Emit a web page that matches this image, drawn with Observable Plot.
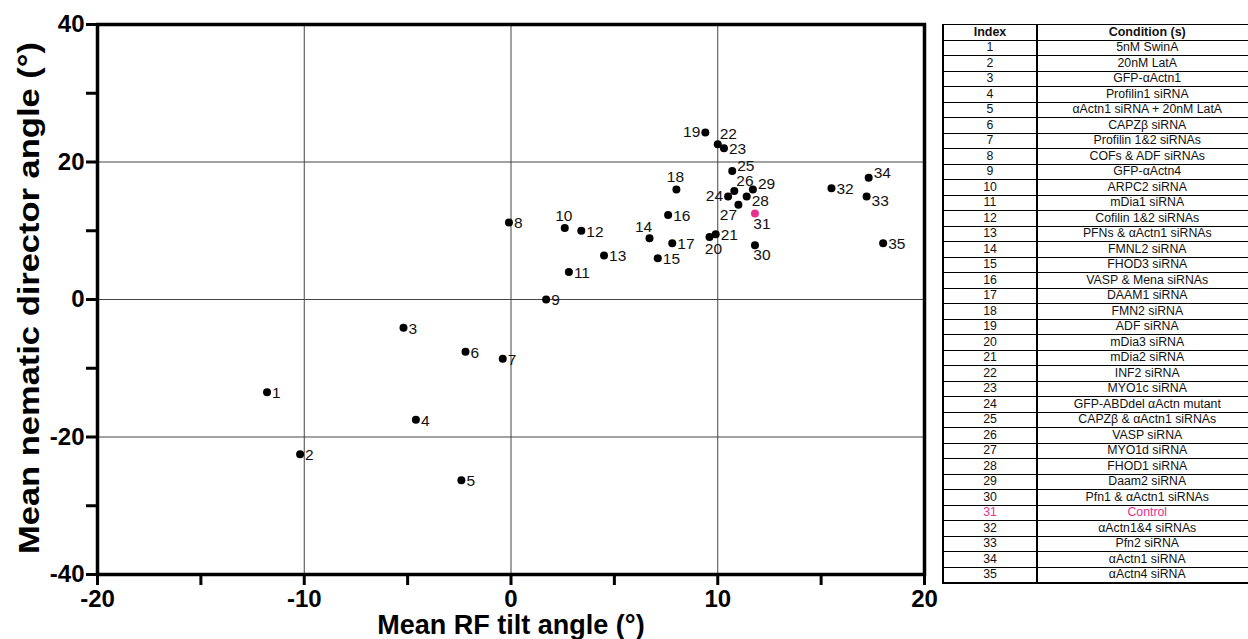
<!DOCTYPE html>
<html>
<head>
<meta charset="utf-8">
<script src="https://cdn.jsdelivr.net/npm/d3@7"></script>
<script src="https://cdn.jsdelivr.net/npm/@observablehq/plot@0.6"></script>
<style>
  html, body { margin: 0; padding: 0; background: white; }
  #wrap { position: relative; width: 1248px; height: 639px; overflow: hidden; font-family: "Liberation Sans", Arial, Helvetica, sans-serif; }
  #chart { position: absolute; left: 0; top: 0; }
  #tbl { position: absolute; left: 942px; top: 24px; width: 314px; height: 560px; border-collapse: collapse; table-layout: fixed; }
  #tbl td, #tbl th { border: 1px solid #000; padding: 0; text-align: center; font-size: 12.3px; line-height: 13px; height: 14.5px; color: #111; white-space: nowrap; overflow: hidden; }
  #tbl th { font-weight: bold; font-size: 12.5px; }
  #tbl tr > :first-child { border-left: 2px solid #000; border-right: 2px solid #000; }
  #tbl tr:first-child > * { border-top: 2px solid #000; }
  #tbl tr:last-child > * { border-bottom: 2px solid #000; }
</style>
</head>
<body>
<div id="wrap">
  <div id="chart"></div>
  <table id="tbl"></table>
</div>
<script>
// ---- data ----
const indexes = [1,2,3,4,5,6,7,8,9,10,11,12,13,14,15,16,17,18,19,20,21,22,23,24,25,26,27,28,29,30,31,32,33,34,35];
const tiltAngle = [-11.8,-10.2,-5.2,-4.6,-2.4,-2.2,-0.4,-0.1,1.7,2.6,2.8,3.4,4.5,6.7,7.1,7.6,7.8,8.0,9.4,9.6,9.9,10.0,10.3,10.5,10.7,10.8,11.0,11.4,11.7,11.8,11.8,15.5,17.2,17.3,18.0];
const directorAngle = [-13.5,-22.5,-4.1,-17.5,-26.3,-7.6,-8.6,11.2,0.0,10.4,4.0,10.0,6.4,8.9,6.0,12.3,8.2,16.0,24.3,9.1,9.5,22.6,22.0,15.0,18.7,15.8,13.8,15.0,16.0,7.9,12.5,16.2,15.0,17.7,8.2];
const labelPlacement = ["r","r","r","r","r","r","r","r","r","t","r","r","r","tl","r","r","r","t","l","b","r","tr","r","l","ru","tr","bl","rd","ru","br","br","r","rd","ru","r"];
const conditions = [
  "5nM SwinA","20nM LatA","GFP-αActn1","Profilin1 siRNA","αActn1 siRNA + 20nM LatA",
  "CAPZβ siRNA","Profilin 1&2 siRNAs","COFs & ADF siRNAs","GFP-αActn4","ARPC2 siRNA",
  "mDia1 siRNA","Cofilin 1&2 siRNAs","PFNs & αActn1 siRNAs","FMNL2 siRNA","FHOD3 siRNA",
  "VASP & Mena siRNAs","DAAM1 siRNA","FMN2 siRNA","ADF siRNA","mDia3 siRNA",
  "mDia2 siRNA","INF2 siRNA","MYO1c siRNA","GFP-ABDdel αActn mutant","CAPZβ & αActn1 siRNAs",
  "VASP siRNA","MYO1d siRNA","FHOD1 siRNA","Daam2 siRNA","Pfn1 & αActn1 siRNAs",
  "Control","αActn1&4 siRNAs","Pfn2 siRNA","αActn1 siRNA","αActn4 siRNA"
];
const highlightIndex = 31;
const xTicks = [-20,-15,-10,-5,0,5,10,15,20];
const yTicks = [-40,-30,-20,-10,0,10,20,30,40];
const gridXValues = [-10,0,10];
const gridYValues = [-20,0,20];
const xTitle = "Mean RF tilt angle (°)";
const yTitle = "Mean nematic director angle (°)";
const tableHeader = ["Index","Condition (s)"];

// ---- build table for Plot ----
const data = indexes.map((idx, i) => ({
  idx, x: tiltAngle[i], y: directorAngle[i], pos: labelPlacement[i], cond: conditions[i]
}));

const PINK = "#e8308c";
const FONT = "'Liberation Sans', Arial, Helvetica, sans-serif";
const placements = {
  r:  {dx: 5,  dy: 1,   anchor: "start"},
  ru: {dx: 5,  dy: -5,  anchor: "start"},
  rd: {dx: 5,  dy: 5,   anchor: "start"},
  t:  {dx: -1, dy: -12, anchor: "middle"},
  tl: {dx: -6, dy: -11, anchor: "middle"},
  tr: {dx: 2,  dy: -10, anchor: "start"},
  l:  {dx: -5, dy: 0,   anchor: "end"},
  b:  {dx: 4,  dy: 12,  anchor: "middle"},
  br: {dx: 7,  dy: 10,  anchor: "middle"},
  bl: {dx: -10,dy: 10,  anchor: "middle"}
};

const labelMarks = Object.entries(placements).map(([key, p]) =>
  Plot.text(data.filter(d => d.pos === key), {
    x: "x", y: "y", text: d => String(d.idx),
    dx: p.dx, dy: p.dy, textAnchor: p.anchor,
    fontSize: 15.5, fill: "#111", fontFamily: FONT
  })
);

const chart = Plot.plot({
  width: 935,
  height: 639,
  marginLeft: 97,
  marginRight: 11,
  marginTop: 24,
  marginBottom: 65,
  x: {domain: [-20, 20]},
  y: {domain: [-40, 40]},
  style: {fontFamily: FONT, background: "white", color: "black", overflow: "visible"},
  marks: [
    Plot.gridX(gridXValues, {stroke: "#444", strokeOpacity: 1, strokeWidth: 1}),
    Plot.gridY(gridYValues, {stroke: "#444", strokeOpacity: 1, strokeWidth: 1}),
    Plot.axisX(xTicks, {
      tickSize: 11, strokeWidth: 3, tickPadding: 4,
      tickFormat: d => d % 10 === 0 ? String(d) : "",
      fontSize: 24, fontWeight: "bold", label: null, fill: "black"
    }),
    Plot.axisY(yTicks, {
      tickSize: 11, strokeWidth: 3, tickPadding: 2,
      tickFormat: d => d % 20 === 0 ? String(d) : "",
      fontSize: 24, fontWeight: "bold", label: null, fill: "black"
    }),
    Plot.frame({stroke: "black", strokeWidth: 3.5}),
    Plot.dot(data, {x: "x", y: "y", r: 4, fill: d => d.idx === highlightIndex ? PINK : "black", stroke: "none"}),
    ...labelMarks,
    Plot.text([xTitle], {frameAnchor: "bottom", lineAnchor: "middle", dy: 51, fontSize: 27, fontWeight: "bold", fill: "black"})
  ]
});
document.getElementById("chart").appendChild(chart);

// y-axis title (rotated)
d3.select(chart).append("text")
  .attr("transform", "translate(31,298) rotate(-90)")
  .attr("text-anchor", "middle")
  .attr("dominant-baseline", "middle")
  .attr("font-family", FONT)
  .attr("font-weight", "bold")
  .attr("font-size", 30)
  .attr("textLength", 512)
  .attr("lengthAdjust", "spacingAndGlyphs")
  .attr("fill", "black")
  .text(yTitle);

// ---- condition table ----
const tbl = d3.select("#tbl");
const colgroup = tbl.append("colgroup");
colgroup.append("col").style("width", "94px");
colgroup.append("col").style("width", "220px");
const head = tbl.append("tr");
tableHeader.forEach(h => head.append("th").text(h));
data.forEach(d => {
  const tr = tbl.append("tr");
  const color = d.idx === highlightIndex ? PINK : "#111";
  tr.append("td").text(d.idx).style("color", color);
  tr.append("td").text(d.cond).style("color", color);
});
</script>
</body>
</html>
